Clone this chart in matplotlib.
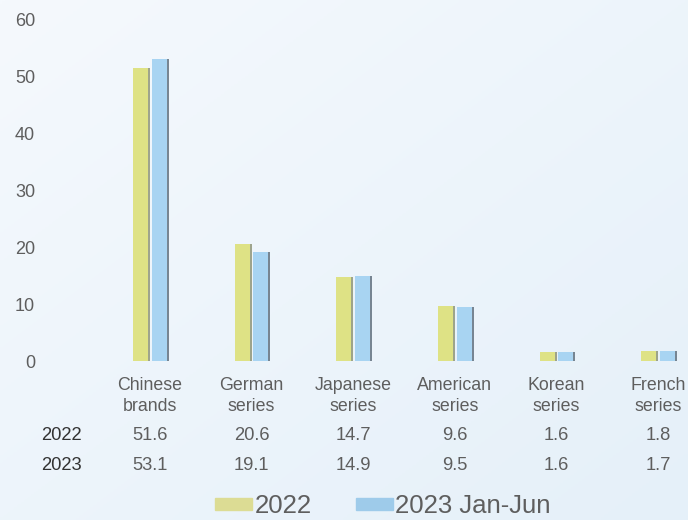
import matplotlib
matplotlib.use("Agg")
import matplotlib.pyplot as plt
import matplotlib.transforms as mtransforms
from matplotlib.patches import Patch
from matplotlib.colors import LinearSegmentedColormap
import numpy as np

categories = ["Chinese\nbrands", "German\nseries", "Japanese\nseries", "American\nseries", "Korean\nseries", "French\nseries"]
v2022 = [51.6, 20.6, 14.7, 9.6, 1.6, 1.8]
v2023 = [53.1, 19.1, 14.9, 9.5, 1.6, 1.7]
row_labels = ["2022", "2023"]
legend_labels = ["2022", "2023 Jan-Jun"]
yticks = [0, 10, 20, 30, 40, 50, 60]

plt.rcParams['font.family'] = ['Liberation Sans', 'DejaVu Sans']

W, H = 688, 520
fig = plt.figure(figsize=(W/100, H/100), dpi=100)
fig.patch.set_facecolor('#eef5fb')

# subtle background gradient
bg = fig.add_axes([0, 0, 1, 1], zorder=-10)
gx = np.linspace(0, 1, 200)
gy = np.linspace(0, 1, 200)
X, Y = np.meshgrid(gx, gy)
grad = 0.5*X + 0.5*(1-Y)
cmap = LinearSegmentedColormap.from_list('bg', ['#f5f9fd', '#e5f0f9'])
bg.imshow(grad, cmap=cmap, aspect='auto', extent=[0, 1, 0, 1], origin='lower')
bg.axis('off')

ax = fig.add_axes([99/W, 1-361/H, 610/W, 341/H])
ax.set_facecolor('none')
x = np.arange(len(categories))
bw = 0.15
off = 0.092
yellow = '#dee285'
blue = '#a8d4f2'
sh = 0.018
ax.bar(x - off + sh, v2022, bw, color='#8a9070', alpha=0.8, zorder=1)
ax.bar(x + off + sh, v2023, bw, color='#5a6a78', alpha=0.8, zorder=1)
ax.bar(x - off, v2022, bw, color=yellow, zorder=2)
ax.bar(x + off, v2023, bw, color=blue, zorder=2)

txt = '#5e5e5e'
ax.set_xlim(-0.5, 5.5)
ax.set_ylim(0, 60)
ax.set_yticks(yticks)
ax.set_yticklabels([str(t) for t in yticks], fontsize=13, color=txt)
ax.tick_params(axis='y', length=0, pad=46)
ax.set_xticks([])
for s in ax.spines.values():
    s.set_visible(False)

tr = mtransforms.blended_transform_factory(ax.transData, fig.transFigure)
for i, c in enumerate(categories):
    ax.text(x[i], 1-396/H, c, transform=tr, ha='center', va='center', fontsize=12.8,
            color=txt, linespacing=1.3, clip_on=False)
    ax.text(x[i], 1-435/H, f"{v2022[i]}", transform=tr, ha='center', va='center',
            fontsize=13.2, color=txt, clip_on=False)
    ax.text(x[i], 1-465/H, f"{v2023[i]}", transform=tr, ha='center', va='center',
            fontsize=13.2, color=txt, clip_on=False)
fig.text(61/W, 1-435/H, row_labels[0], ha='center', va='center', fontsize=13.2, color='#333333')
fig.text(61/W, 1-465/H, row_labels[1], ha='center', va='center', fontsize=13.2, color='#333333')

handles = [Patch(color='#dcdc94'), Patch(color='#9ecbea')]
fig.legend(handles, legend_labels, loc='center', bbox_to_anchor=(383/W, 1-506/H), ncol=2,
           frameon=False, fontsize=18.5, handlelength=1.45, handleheight=0.32,
           handletextpad=0.1, columnspacing=1.7, labelcolor=txt,
           borderpad=0, borderaxespad=0)

fig.savefig('out.png', dpi=100, facecolor=fig.get_facecolor())
